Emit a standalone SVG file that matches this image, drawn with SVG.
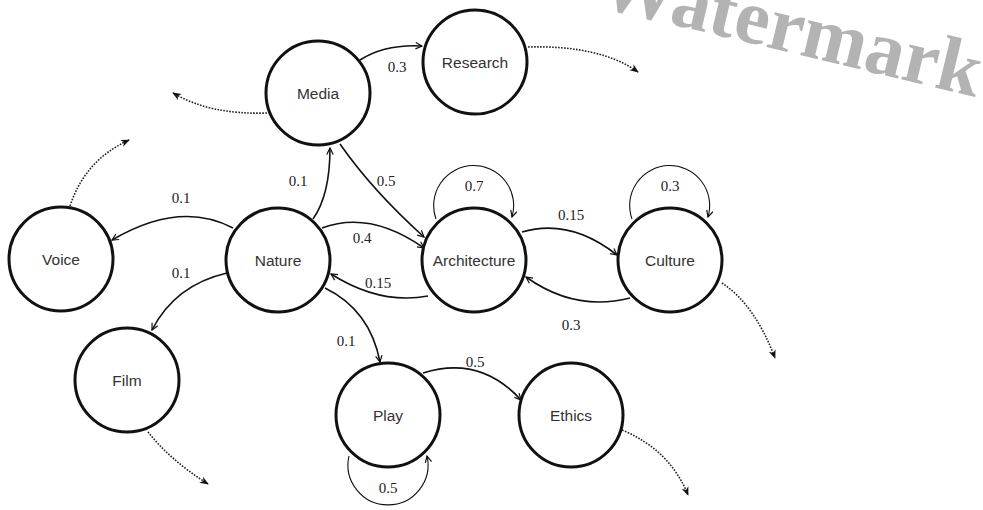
<svg xmlns="http://www.w3.org/2000/svg" width="983" height="510" viewBox="0 0 983 510">
<style>
.node circle{fill:#fff;stroke:#111;stroke-width:3}
.node text{font-family:"Liberation Sans",Arial,sans-serif;font-size:15.5px;fill:#333;text-anchor:middle;dominant-baseline:central}
.e{fill:none;stroke:#111;stroke-width:1.6;marker-end:url(#open)}
.loop{fill:none;stroke:#111;stroke-width:1.1;marker-end:url(#open)}
.d{fill:none;stroke:#222;stroke-width:1.6;stroke-dasharray:1.6 1.4;marker-end:url(#solid)}
.lbl{font-family:"Liberation Serif","DejaVu Serif",serif;font-size:15px;fill:#222;text-anchor:middle;font-variant-numeric:oldstyle-nums}
.wm{font-family:"Liberation Serif","DejaVu Serif",serif;font-weight:bold;font-size:78px;fill:#b3b3b3}
</style>
<defs>
<marker id="open" viewBox="0 0 10 10" refX="9" refY="5" markerWidth="8" markerHeight="8" markerUnits="userSpaceOnUse" orient="auto">
<path d="M1,1 L9,5 L1,9" fill="none" stroke="#111" stroke-width="1.5"/>
</marker>
<marker id="solid" viewBox="0 0 10 10" refX="9" refY="5" markerWidth="9" markerHeight="9" markerUnits="userSpaceOnUse" orient="auto">
<path d="M0,1 L10,5 L0,9 L3,5 Z" fill="#111"/>
</marker>
</defs>
<rect width="983" height="510" fill="#fff"/>
<text class="wm" x="596" y="6" transform="rotate(13.5 596 6)">Watermark</text>
<g id="connectors">
<path class="e" d="M360,60 Q385,44 422,46"/>
<path class="d" d="M528,47 Q600,45 638,72"/>
<path class="d" d="M267,113 Q210,115 173,93"/>
<path class="d" d="M70,206 Q85,160 129,140"/>
<path class="e" d="M313,219 Q330,195 330,148"/>
<path class="e" d="M340,144 Q372,190 424,237"/>
<path class="e" d="M322,228 Q370,210 424,248"/>
<path class="e" d="M428,296 Q380,305 331,274"/>
<path class="loop" d="M436,219 A40,40 0 1 1 512,217"/>
<path class="loop" d="M632,219 A40,40 0 1 1 708,217"/>
<path class="e" d="M522,232 Q570,218 617,255"/>
<path class="e" d="M630,298 Q575,312 526,277"/>
<path class="d" d="M722,283 Q755,305 775,358"/>
<path class="e" d="M233,228 Q180,200 112,240"/>
<path class="e" d="M227,273 Q175,285 152,330"/>
<path class="e" d="M325,288 Q370,310 380,362"/>
<path class="e" d="M423,373 Q480,355 521,400"/>
<path class="loop" d="M349,456 A40,40 0 1 0 427,456"/>
<path class="d" d="M622,430 Q670,450 688,495"/>
<path class="d" d="M148,432 Q170,460 208,484"/>
<text class="lbl" x="397" y="72">0.3</text>
<text class="lbl" x="298" y="186">0.1</text>
<text class="lbl" x="386" y="186">0.5</text>
<text class="lbl" x="181" y="203">0.1</text>
<text class="lbl" x="181" y="278">0.1</text>
<text class="lbl" x="362" y="243">0.4</text>
<text class="lbl" x="378" y="288">0.15</text>
<text class="lbl" x="474" y="191">0.7</text>
<text class="lbl" x="670" y="191">0.3</text>
<text class="lbl" x="571" y="220">0.15</text>
<text class="lbl" x="571" y="330">0.3</text>
<text class="lbl" x="346" y="346">0.1</text>
<text class="lbl" x="475" y="367">0.5</text>
<text class="lbl" x="388" y="493">0.5</text>
</g>
<g id="media" class="node"><circle cx="318" cy="93" r="52"/><text x="318" y="93">Media</text></g>
<g id="research" class="node"><circle cx="475" cy="62" r="52"/><text x="475" y="62">Research</text></g>
<g id="voice" class="node"><circle cx="61" cy="259" r="52"/><text x="61" y="259">Voice</text></g>
<g id="nature" class="node"><circle cx="278" cy="260" r="52"/><text x="278" y="260">Nature</text></g>
<g id="architecture" class="node"><circle cx="474" cy="260" r="52"/><text x="474" y="260">Architecture</text></g>
<g id="culture" class="node"><circle cx="670" cy="260" r="52"/><text x="670" y="260">Culture</text></g>
<g id="film" class="node"><circle cx="127" cy="380" r="52"/><text x="127" y="380">Film</text></g>
<g id="play" class="node"><circle cx="388" cy="415" r="52"/><text x="388" y="415">Play</text></g>
<g id="ethics" class="node"><circle cx="571" cy="415" r="52"/><text x="571" y="415">Ethics</text></g>
</svg>
